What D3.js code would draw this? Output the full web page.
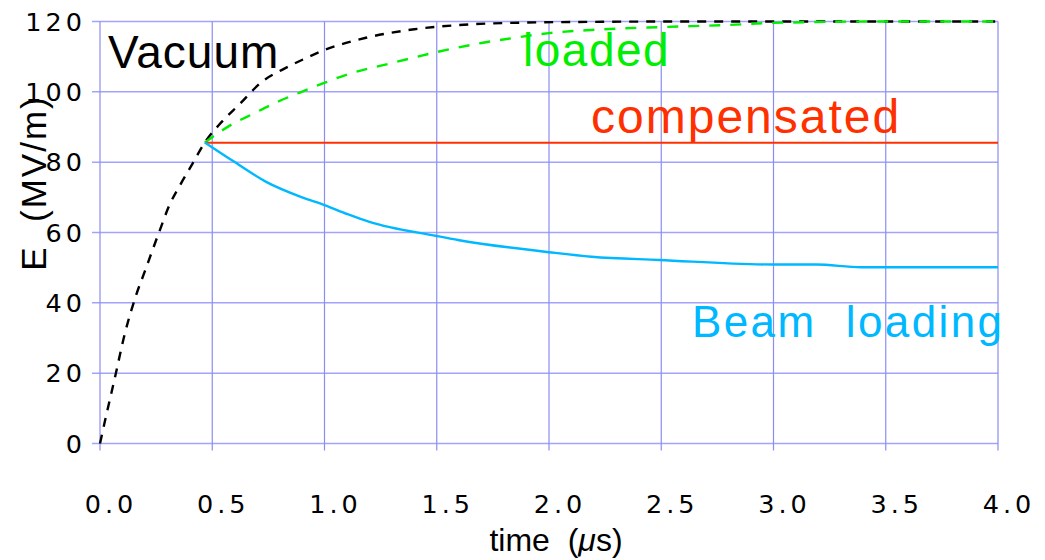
<!DOCTYPE html>
<html>
<head>
<meta charset="utf-8">
<script src="https://d3js.org/d3.v7.min.js"></script>
<style>
  body { margin: 0px; padding: 0px; background: #fff; }
  svg { display: block; }
  .tick_lbl { font-family: "DejaVu Sans", sans-serif; font-size: 25.5px; fill: #000; letter-spacing: 4px; }
  .series_lbl { font-family: "Liberation Sans", Arial, sans-serif; }
</style>
</head>
<body>
<div id="svg_cont"></div>
<script>

// time axis (us) and field values (MV/m)
var x_ticks = [0.0, 0.5, 1.0, 1.5, 2.0, 2.5, 3.0, 3.5, 4.0];
var y_ticks = [0, 20, 40, 60, 80, 100, 120];

var vacuum_t = [0, 0.026, 0.067, 0.11, 0.162, 0.2, 0.235, 0.265, 0.31, 0.356, 0.407, 0.467, 0.54, 0.622, 0.726, 0.815, 0.904, 1.0, 1.096, 1.18, 1.4, 1.6, 1.9, 2.2, 2.6, 3.0, 3.5, 4.0];
var vacuum_E = [0, 7.5, 18.9, 31.1, 42.4, 49, 55.2, 60.4, 67.9, 73.4, 79, 85.6, 91.3, 96.5, 103.1, 106.4, 109.2, 111.9, 113.9, 115.3, 117.8, 119, 119.7, 119.9, 120, 120, 120, 120];

var loaded_t = [0.467, 0.578, 0.68, 0.785, 0.89, 0.993, 1.1, 1.3, 1.5, 1.7, 1.85, 2.0, 2.19, 2.49, 2.79, 3.0, 3.5, 4.0];
var loaded_E = [85.6, 90.4, 93.7, 97, 99.8, 102.4, 104.9, 108.2, 111.3, 113.9, 115.4, 116.7, 117.6, 118.4, 119, 119.6, 120, 120];

var comp_t = [0.467, 4.0];
var comp_E = [85.5, 85.5];

var beam_t = [0.467, 0.593, 0.74, 0.9, 1.0, 1.103, 1.2, 1.5, 1.6, 2.0, 2.19, 2.49, 3.0, 3.19, 3.39, 4.0];
var beam_E = [85.6, 80.3, 74.4, 70, 67.8, 65.2, 63, 59, 57.8, 54.4, 53.1, 52.2, 50.9, 50.9, 50.1, 50.1];

var w = 1045, h = 560;

var svg_main = d3.select("div#svg_cont")
  .append('svg')
  .attr('width', w)
  .attr('height', h);

const x = d3.scaleLinear().domain([0, 4]).range([100, 998]);
const y = d3.scaleLinear().domain([0, 120]).range([443.5, 21.5]);

var grid_col = '#a3a3ff';

// horizontal grid (sticks out a little on the left as tick marks)
svg_main.append('g').selectAll('line')
  .data(y_ticks)
  .enter().append('line')
    .attr('x1', 92)
    .attr('x2', x(4))
    .attr('y1', d => y(d))
    .attr('y2', d => y(d))
    .attr('stroke', grid_col)
    .attr('stroke-width', 1.5);

// vertical grid (sticks out below the axis)
svg_main.append('g').selectAll('line')
  .data(x_ticks)
  .enter().append('line')
    .attr('x1', d => x(d))
    .attr('x2', d => x(d))
    .attr('y1', y(120))
    .attr('y2', y(0) + 7)
    .attr('stroke', '#8c8cf2')
    .attr('stroke-width', 1.2);

// tick labels
svg_main.append('g').selectAll('text')
  .data(y_ticks)
  .enter().append('text')
    .attr('class', 'tick_lbl')
    .attr('x', 86)
    .attr('y', d => y(d))
    .attr('dy', '0.36em')
    .attr('text-anchor', 'end')
    .text(d => d);

svg_main.append('g').selectAll('text')
  .data(x_ticks)
  .enter().append('text')
    .attr('class', 'tick_lbl')
    .attr('x', d => x(d) + 11)
    .attr('y', 513)
    .attr('text-anchor', 'middle')
    .text(d => d.toFixed(1));

// axis titles
var xt = svg_main.append('text')
  .attr('class', 'series_lbl')
  .attr('x', 556)
  .attr('y', 551)
  .attr('text-anchor', 'middle')
  .style('font-size', '32px')
  .style('white-space', 'pre');
xt.append('tspan').text('time  (');
xt.append('tspan').style('font-style', 'italic').text('\u03bc');
xt.append('tspan').text('s)');

svg_main.append('text')
  .attr('class', 'series_lbl')
  .attr('transform', 'translate(46,183) rotate(-90)')
  .attr('text-anchor', 'middle')
  .style('font-size', '35px')
  .style('letter-spacing', '2px')
  .style('white-space', 'pre')
  .text('E  (MV/m)');

// curves
const line = d3.line()
  .x(d => x(d[0]))
  .y(d => y(d[1]))
  .curve(d3.curveMonotoneX);

var series = [
  {t: vacuum_t, E: vacuum_E, col: '#000000', dash: '9,8', sw: 2.4},
  {t: loaded_t, E: loaded_E, col: '#00ee00', dash: '11,10', sw: 2.4},
  {t: comp_t, E: comp_E, col: '#ff3000', dash: null, sw: 2},
  {t: beam_t, E: beam_E, col: '#00b8ff', dash: null, sw: 2.4}
];

svg_main.append('g').selectAll('path')
  .data(series)
  .enter().append('path')
    .attr('d', s => line(d3.zip(s.t, s.E)))
    .attr('fill', 'none')
    .attr('stroke', s => s.col)
    .attr('stroke-width', s => s.sw)
    .attr('stroke-dasharray', s => s.dash);

// series labels
var labels = [
  {txt: 'Vacuum', x: 108, y: 68, col: '#000000', fs: 46, ls: 1},
  {txt: 'loaded', x: 523, y: 66, col: '#00ee00', fs: 46, ls: 1.5},
  {txt: 'compensated', x: 591, y: 133, col: '#ff3000', fs: 48, ls: 2},
  {txt: 'Beam  loading', x: 692, y: 337, col: '#00b8ff', fs: 44, ls: 2.4}
];

svg_main.append('g').selectAll('text')
  .data(labels)
  .enter().append('text')
    .attr('class', 'series_lbl')
    .attr('x', d => d.x)
    .attr('y', d => d.y)
    .attr('fill', d => d.col)
    .style('font-size', d => d.fs + 'px')
    .style('letter-spacing', d => d.ls + 'px')
    .style('white-space', 'pre')
    .text(d => d.txt);

</script>
</body>
</html>
